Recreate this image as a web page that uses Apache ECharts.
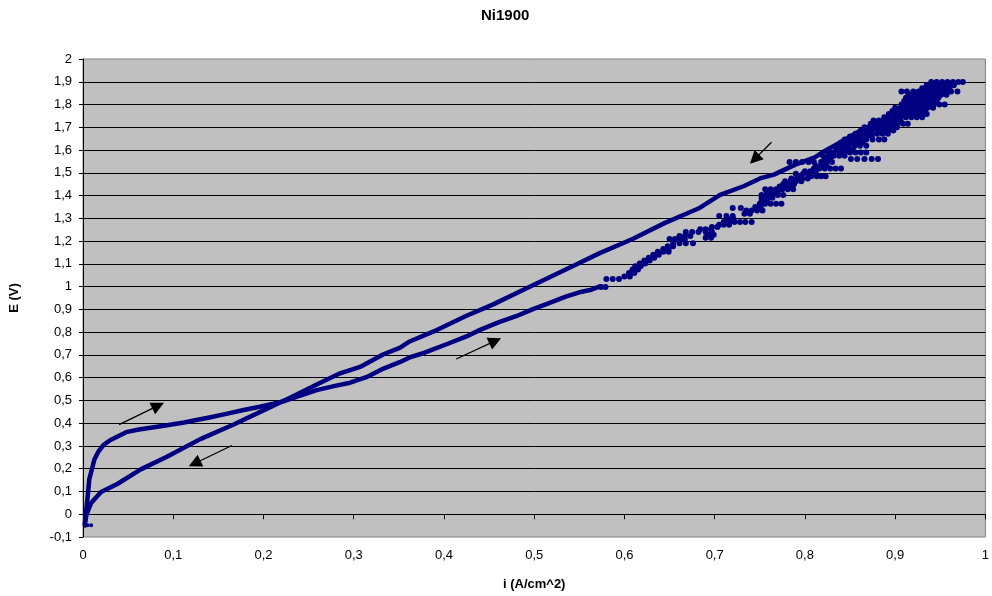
<!DOCTYPE html>
<html><head><meta charset="utf-8">
<script src="https://cdn.jsdelivr.net/npm/echarts@6/dist/echarts.min.js"></script>
<style>html,body{margin:0;padding:0;background:#fff}#c{width:992px;height:596px}</style>
</head><body><div id="c"></div>
<script>
// ---- data ----
const titleText = 'Ni1900';
const xName = 'i (A/cm^2)';
const yName = 'E (V)';

// forward (up) sweep, smooth part
const fwdI = [0.002,0.003,0.005,0.007,0.010,0.0125,0.017,0.0228,0.030,0.040,0.049,0.062,0.075,0.088,0.100,0.112,0.123,0.140,0.160,0.178,0.196,0.210,0.222,0.240,0.259,0.278,0.296,0.314,0.333,0.351,0.362,0.375,0.388,0.405,0.425,0.440,0.461,0.480,0.498,0.515,0.535,0.550,0.562,0.572];
const fwdE = [-0.05,0.00,0.07,0.154,0.20,0.239,0.275,0.305,0.325,0.345,0.362,0.372,0.380,0.388,0.395,0.403,0.412,0.425,0.442,0.458,0.472,0.485,0.496,0.520,0.545,0.563,0.578,0.602,0.640,0.668,0.689,0.705,0.724,0.750,0.781,0.810,0.844,0.870,0.900,0.925,0.956,0.975,0.985,1.000];

// return (down) sweep
const retI = [0.895,0.877,0.859,0.842,0.822,0.811,0.790,0.765,0.752,0.732,0.706,0.682,0.645,0.609,0.572,0.550,0.520,0.487,0.454,0.425,0.388,0.362,0.351,0.333,0.307,0.285,0.259,0.230,0.204,0.167,0.130,0.093,0.064,0.038,0.020,0.009,0.004,0.002];
const retE = [1.744,1.716,1.680,1.640,1.596,1.568,1.537,1.491,1.478,1.441,1.403,1.343,1.280,1.209,1.146,1.104,1.047,0.984,0.921,0.872,0.802,0.759,0.731,0.703,0.647,0.619,0.570,0.513,0.464,0.394,0.330,0.253,0.197,0.133,0.098,0.049,0.000,-0.040];

// noisy high-current points of the forward sweep
const cloud = [
[0.574,0.998],[0.579,0.998],
[0.580,1.034],[0.587,1.034],[0.594,1.034],
[0.600,1.045],[0.606,1.045],[0.605,1.060],[0.611,1.060],[0.609,1.075],[0.615,1.075],
[0.612,1.090],[0.618,1.090],[0.617,1.102],[0.623,1.102],[0.622,1.115],[0.628,1.115],
[0.627,1.127],[0.633,1.127],[0.632,1.140],[0.638,1.140],
[0.637,1.153],[0.643,1.153],[0.649,1.153],[0.643,1.165],[0.649,1.165],[0.648,1.177],[0.654,1.177],
[0.654,1.190],[0.661,1.190],[0.668,1.190],[0.676,1.190],
[0.650,1.209],[0.656,1.209],[0.662,1.209],[0.667,1.209],
[0.661,1.222],[0.667,1.222],[0.673,1.222],
[0.668,1.240],[0.675,1.240],[0.682,1.240],[0.690,1.240],[0.697,1.240],
[0.684,1.252],[0.690,1.252],[0.696,1.252],[0.690,1.215],[0.696,1.215],[0.693,1.228],[0.699,1.228],
[0.697,1.262],[0.703,1.262],[0.705,1.272],[0.710,1.272],[0.716,1.272],
[0.710,1.284],[0.716,1.284],[0.722,1.284],[0.728,1.284],[0.734,1.284],[0.741,1.284],
[0.715,1.296],[0.721,1.296],[0.705,1.310],[0.713,1.310],[0.720,1.310],
[0.733,1.320],[0.739,1.320],
[0.735,1.334],[0.741,1.334],[0.747,1.334],[0.753,1.334],
[0.720,1.345],[0.729,1.345],[0.745,1.350],[0.751,1.350],
[0.750,1.364],[0.756,1.364],[0.762,1.364],[0.768,1.364],[0.774,1.364],
[0.752,1.377],[0.758,1.377],[0.752,1.390],[0.758,1.390],[0.764,1.390],
[0.752,1.402],[0.758,1.402],[0.764,1.402],[0.770,1.402],[0.776,1.402],
[0.758,1.415],[0.764,1.415],[0.770,1.415],
[0.756,1.428],[0.762,1.428],[0.768,1.428],[0.775,1.428],[0.781,1.428],[0.787,1.428],
[0.772,1.440],[0.778,1.440],[0.784,1.440],[0.776,1.451],[0.782,1.451],[0.788,1.451],
[0.778,1.463],[0.784,1.463],[0.790,1.463],[0.796,1.463],
[0.785,1.475],[0.791,1.475],[0.797,1.475],[0.803,1.475],
[0.795,1.485],[0.807,1.485],[0.813,1.485],[0.818,1.485],[0.823,1.485],
[0.790,1.496],[0.798,1.496],[0.804,1.496],[0.800,1.507],[0.806,1.507],[0.812,1.507],
[0.810,1.519],[0.816,1.519],[0.822,1.519],[0.828,1.519],[0.834,1.519],[0.840,1.519],
[0.812,1.531],[0.818,1.531],[0.824,1.531],
[0.783,1.547],[0.790,1.547],[0.797,1.547],[0.804,1.547],[0.810,1.547],[0.818,1.547],[0.824,1.547],[0.830,1.547],
[0.822,1.561],[0.828,1.561],[0.851,1.561],[0.858,1.561],[0.866,1.561],[0.874,1.561],[0.881,1.561],
[0.820,1.575],[0.826,1.575],[0.832,1.575],[0.838,1.575],[0.844,1.575],
[0.826,1.589],[0.832,1.589],[0.838,1.589],[0.844,1.589],[0.850,1.589],[0.856,1.589],[0.862,1.589],[0.868,1.589],
[0.835,1.604],[0.841,1.604],[0.847,1.604],[0.853,1.604],
[0.836,1.619],[0.842,1.619],[0.848,1.619],[0.855,1.619],[0.861,1.619],[0.868,1.619],
[0.840,1.633],[0.846,1.633],[0.852,1.633],[0.858,1.633],[0.864,1.633],
[0.844,1.646],[0.850,1.646],[0.856,1.646],[0.862,1.646],[0.868,1.646],[0.875,1.646],[0.882,1.646],[0.888,1.646],
[0.850,1.659],[0.856,1.659],[0.862,1.659],[0.868,1.659],[0.874,1.659],
[0.856,1.672],[0.862,1.672],[0.868,1.672],[0.874,1.672],[0.880,1.672],[0.886,1.672],[0.892,1.672],
[0.862,1.686],[0.868,1.686],[0.874,1.686],[0.880,1.686],[0.886,1.686],[0.892,1.686],[0.898,1.686],
[0.866,1.700],[0.872,1.700],[0.878,1.700],[0.884,1.700],[0.890,1.700],[0.896,1.700],[0.902,1.700],
[0.873,1.716],[0.879,1.716],[0.885,1.716],[0.891,1.716],[0.897,1.716],[0.903,1.716],[0.909,1.716],[0.914,1.716],
[0.876,1.730],[0.882,1.730],[0.888,1.730],[0.894,1.730],[0.900,1.730],[0.906,1.730],
[0.888,1.744],[0.894,1.744],[0.900,1.744],[0.906,1.744],[0.912,1.744],[0.918,1.744],[0.924,1.744],[0.930,1.744],
[0.893,1.758],[0.899,1.758],[0.905,1.758],[0.911,1.758],[0.917,1.758],[0.923,1.758],[0.929,1.758],[0.935,1.758],
[0.897,1.772],[0.903,1.772],[0.909,1.772],[0.915,1.772],[0.921,1.772],[0.927,1.772],[0.933,1.772],
[0.900,1.786],[0.906,1.786],[0.912,1.786],[0.918,1.786],[0.924,1.786],[0.930,1.786],[0.936,1.786],[0.942,1.786],
[0.907,1.800],[0.913,1.800],[0.919,1.800],[0.925,1.800],[0.931,1.800],[0.937,1.800],[0.943,1.800],[0.949,1.800],[0.955,1.800],
[0.910,1.815],[0.916,1.815],[0.922,1.815],[0.928,1.815],[0.934,1.815],[0.940,1.815],[0.946,1.815],
[0.912,1.830],[0.918,1.830],[0.924,1.830],[0.930,1.830],[0.936,1.830],[0.942,1.830],[0.948,1.830],
[0.915,1.843],[0.921,1.843],[0.927,1.843],[0.933,1.843],[0.939,1.843],[0.945,1.843],[0.951,1.843],[0.957,1.843],
[0.907,1.857],[0.913,1.857],[0.920,1.857],[0.926,1.857],[0.932,1.857],[0.938,1.857],[0.944,1.857],[0.950,1.857],[0.956,1.857],[0.962,1.857],[0.969,1.857],
[0.930,1.872],[0.936,1.872],[0.942,1.872],[0.948,1.872],[0.954,1.872],[0.960,1.872],
[0.935,1.885],[0.941,1.885],[0.947,1.885],[0.953,1.885],[0.959,1.885],[0.965,1.885],
[0.940,1.899],[0.946,1.899],[0.952,1.899],[0.958,1.899],[0.964,1.899],[0.970,1.899],[0.975,1.899]
];
// stray points near the origin
const strayI = [0.005,0.009];
const strayE = [-0.048,-0.048];

// arrow annotations: tail and head positions (data units)
const arrowFrom = [[0.040,0.394],[0.165,0.302],[0.4136,0.682],[0.763,1.634]];
const arrowTo   = [[0.0833,0.477],[0.1237,0.223],[0.4568,0.7616],[0.7442,1.560]];

// ---- chart ----
const FONT = "'Liberation Sans', Arial, sans-serif";
const NAVY = '#000080';
const fmt = v => String(Math.round(v * 10) / 10).replace('.', ',');
const zip = (a, b) => a.map((v, i) => [v, b[i]]);

const chart = echarts.init(document.getElementById('c'), null, {renderer: 'canvas'});
chart.setOption({
  animation: false,
  backgroundColor: '#ffffff',
  title: {
    text: titleText, left: 476, top: 3,
    textStyle: {fontFamily: FONT, fontSize: 15, fontWeight: 'bold', color: '#000'}
  },
  grid: {
    left: 82, right: 4, top: 59, bottom: 39, containLabel: false,
    show: true, backgroundColor: '#C0C0C0', borderColor: '#808080', borderWidth: 1
  },
  xAxis: {
    type: 'value', min: 0, max: 1, interval: 0.1,
    name: xName, nameLocation: 'middle', nameGap: 41,
    nameTextStyle: {fontFamily: FONT, fontSize: 13, fontWeight: 'bold', color: '#000'},
    axisLine: {show: true, onZero: true, lineStyle: {color: '#000', width: 1}},
    axisTick: {show: true, length: 5, lineStyle: {color: '#000'}},
    axisLabel: {margin: 12, fontFamily: FONT, fontSize: 13, color: '#000', formatter: fmt, showMinLabel: true, showMaxLabel: true},
    splitLine: {show: false}
  },
  yAxis: {
    type: 'value', min: -0.1, max: 2, interval: 0.1,
    name: yName, nameLocation: 'middle', nameGap: 62, nameRotate: 90,
    nameTextStyle: {fontFamily: FONT, fontSize: 13, fontWeight: 'bold', color: '#000'},
    axisLine: {show: true, onZero: false, lineStyle: {color: '#000', width: 1}},
    axisTick: {show: true, length: 4, lineStyle: {color: '#000'}},
    axisLabel: {margin: 11, fontFamily: FONT, fontSize: 13, color: '#000', formatter: fmt},
    splitLine: {show: true, showMinLine: false, showMaxLine: false, lineStyle: {color: '#000', width: 1}}
  },
  series: [
    {
      type: 'line', data: zip(fwdI, fwdE), symbol: 'none', smooth: false,
      lineStyle: {color: NAVY, width: 4.5, join: 'round', cap: 'round'}, silent: true, z: 3
    },
    {
      type: 'line', data: zip(retI, retE), symbol: 'none', smooth: false,
      lineStyle: {color: NAVY, width: 4.5, join: 'round', cap: 'round'}, silent: true, z: 3
    },
    {
      type: 'scatter', data: cloud, symbol: 'circle', symbolSize: 6,
      itemStyle: {color: NAVY, opacity: 1}, silent: true, z: 3
    },
    {
      type: 'scatter', data: zip(strayI, strayE), symbol: 'circle', symbolSize: 4,
      itemStyle: {color: NAVY, opacity: 1}, silent: true, z: 3,
      markLine: {
        silent: true, animation: false,
        symbol: ['none', 'triangle'], symbolSize: 13,
        label: {show: false},
        itemStyle: {color: '#000'},
        lineStyle: {color: '#000', width: 1.3, type: 'solid', opacity: 1},
        emphasis: {disabled: true},
        data: arrowFrom.map((p, i) => [{coord: p}, {coord: arrowTo[i]}])
      }
    }
  ]
});
</script>
</body></html>
